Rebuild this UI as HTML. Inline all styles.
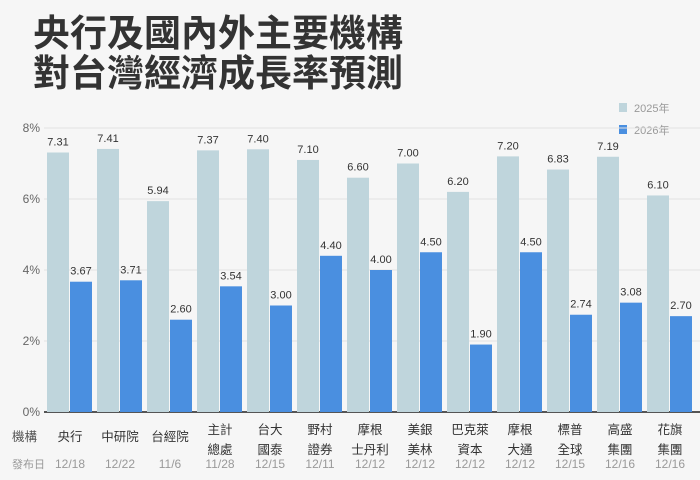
<!DOCTYPE html>
<html><head><meta charset="utf-8"><style>
body{margin:0;background:#f6f6f6;}
svg{display:block;font-family:"Liberation Sans","Noto Sans CJK TC",sans-serif;}
</style></head><body>
<svg id="c" width="700" height="480" viewBox="0 0 700 480">
<rect width="700" height="480" fill="#f6f6f6"/>
<text x="33" y="46" font-size="37" font-weight="bold" fill="#333" font-family="'Noto Sans CJK TC',sans-serif">央行及國內外主要機構</text>
<text x="33" y="86" font-size="37" font-weight="bold" fill="#333" font-family="'Noto Sans CJK TC',sans-serif">對台灣經濟成長率預測</text>
<g>
<rect x="619" y="103" width="8" height="9" fill="#bfd5dc"/>
<text x="634" y="112" font-size="11" fill="#999">2025年</text>
<rect x="619" y="125" width="8" height="9" fill="#4a8fe0"/>
<text x="634" y="134" font-size="11" fill="#999">2026年</text>
</g>
<g id="grid"></g><g id="bars"></g><g id="labels"></g>
</svg>
<script>
const categories=["央行","中研院","台經院","主計\n總處","台大\n國泰","野村\n證券","摩根\n士丹利","美銀\n美林","巴克萊\n資本","摩根\n大通","標普\n全球","高盛\n集團","花旗\n集團"];
const dates=["12/18","12/22","11/6","11/28","12/15","12/11","12/12","12/12","12/12","12/12","12/15","12/16","12/16"];
const values2025=[7.31,7.41,5.94,7.37,7.40,7.10,6.60,7.00,6.20,7.20,6.83,7.19,6.10];
const values2026=[3.67,3.71,2.60,3.54,3.00,4.40,4.00,4.50,1.90,4.50,2.74,3.08,2.70];
const yTicks=[0,2,4,6,8];
const NS="http://www.w3.org/2000/svg";
const y0=412,yTop=128,yMax=8;
function y(v){return y0-(v/yMax)*(y0-yTop);}
function gx(i){return 47+50*i;}
function mk(tag,attrs,parent,text){const e=document.createElementNS(NS,tag);for(const k in attrs)e.setAttribute(k,attrs[k]);if(text!=null)e.textContent=text;parent.appendChild(e);return e;}
const grid=document.getElementById('grid'),bars=document.getElementById('bars'),labels=document.getElementById('labels');
yTicks.forEach(t=>{
  const l=mk('line',{x1:44,x2:700,y1:y(t),y2:y(t),stroke:t===0?'#555':'#e2e2e2','stroke-width':t===0?2:1},grid);
  
  
  const tx=mk('text',{x:40,y:y(t)+4,'text-anchor':'end','font-size':12,fill:'#666'},grid,t+'%');
  
  
});
function fmt(v){return v.toFixed(2);}
categories.forEach((c,i)=>{
  const x=gx(i);
  const b1=mk('rect',{x:x,y:y(values2025[i]),width:22,height:y0-y(values2025[i]),fill:'#bfd5dc'},bars);
  
  
  const b2=mk('rect',{x:x+23,y:y(values2026[i]),width:22,height:y0-y(values2026[i]),fill:'#4a8fe0'},bars);
  
  
  const v1=mk('text',{x:x+11,y:y(values2025[i])-7,'text-anchor':'middle','font-size':11,fill:'#333'},labels,fmt(values2025[i]));
  
  
  const v2=mk('text',{x:x+34,y:y(values2026[i])-7,'text-anchor':'middle','font-size':11,fill:'#333'},labels,fmt(values2026[i]));
  
  
  const cx=x+23;
  const parts=c.split('\n');
  parts.forEach((p,j)=>{
    const yy=parts.length===1?441:434+j*20;
    const t=mk('text',{x:cx,y:yy,'text-anchor':'middle','font-size':12.5,fill:'#333'},labels,p);
    
    
  });
  const d=mk('text',{x:cx,y:468,'text-anchor':'middle','font-size':12,fill:'#999'},labels,dates[i]);
  
  
});
const h1=mk('text',{x:12,y:441,'font-size':12.5,fill:'#555'},labels,'機構');


const h2=mk('text',{x:12,y:468,'font-size':11,fill:'#999'},labels,'發布日');


</script>
</body></html>
